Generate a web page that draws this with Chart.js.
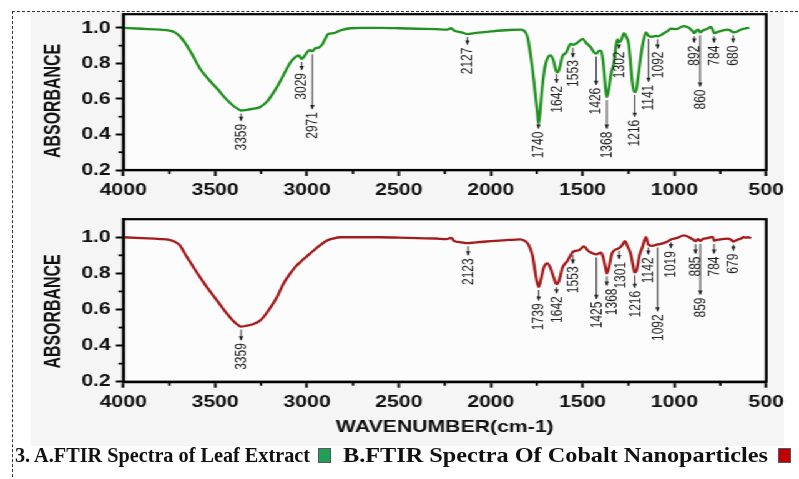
<!DOCTYPE html>
<html><head><meta charset="utf-8">
<script src="https://cdn.jsdelivr.net/npm/chart.js@4.4.0/dist/chart.umd.min.js"></script>
<style>
html,body{margin:0;padding:0;background:#fff;width:799px;height:479px;overflow:hidden;position:relative}
#frame{position:absolute;left:12px;top:11px;width:800px;height:480px;border-left:1px dashed #333;border-top:1px dashed #333}
#panel{position:absolute;left:31px;top:12px;width:753px;height:434px;background:#f5f5f5}
#stretch{position:absolute;left:0;top:0;width:640px;height:445px;transform:scaleX(1.2484);transform-origin:0 0}
#c1{position:absolute;left:0;top:0}
#c2{position:absolute;left:0;top:205px}
.cap{position:absolute;top:444px;font:bold 22px/22px "Liberation Serif","Times New Roman",serif;color:#111;white-space:nowrap;transform-origin:0 0}
.sq{position:absolute;top:448px;width:11px;height:13px;border:1px solid #556}
</style></head>
<body>
<div id="panel"></div>
<div id="frame"></div>
<div id="stretch">
  <canvas id="c1" width="640" height="205"></canvas>
  <canvas id="c2" width="640" height="240"></canvas>
</div>
<span class="cap" id="capA" data-left="15" data-w="295">3. A.FTIR Spectra of Leaf Extract</span>
<div class="sq" style="left:318px;background:#1fa055"></div>
<span class="cap" id="capB" data-left="343" data-w="425">B.FTIR Spectra Of Cobalt Nanoparticles</span>
<div class="sq" style="left:778px;background:#c00000"></div>
<script>
// ---- data ----
const xTicks = [4000,3500,3000,2500,2000,1500,1000,500];
const yTicks = [0.2,0.4,0.6,0.8,1.0];

const waveA = [4000,3900,3800,3750,3720,3690,3654,3620,3582,3540,
3491,3450,3400,3370,3359,3330,3290,3255,3218,3180,
3146,3115,3091,3060,3045,3029,3015,3000,2985,2971,
2955,2935,2918,2900,2885,2855,2820,2764,2700,2600,
2500,2400,2300,2240,2215,2200,2160,2127,2080,2000,
1900,1840,1820,1800,1785,1773,1760,1746,1740,1732,
1720,1710,1695,1675,1660,1645,1635,1625,1610,1590,
1565,1553,1530,1500,1480,1455,1440,1426,1410,1398,
1385,1375,1368,1358,1345,1328,1318,1310,1302,1290,
1274,1262,1250,1240,1230,1220,1210,1198,1183,1168,
1155,1141,1120,1100,1092,1060,1040,1019,990,950,
920,900,892,880,870,860,845,820,801,790,
784,770,740,710,690,680,660,640,610,592];
const absA = [1.000,0.995,0.990,0.985,0.975,0.950,0.900,0.840,0.770,0.715,
0.660,0.610,0.560,0.540,0.535,0.538,0.545,0.555,0.585,0.640,
0.700,0.760,0.805,0.838,0.845,0.825,0.840,0.862,0.875,0.868,
0.885,0.890,0.905,0.940,0.965,0.970,0.985,0.998,1.000,1.000,
0.998,0.995,0.993,0.990,0.998,0.985,0.975,0.965,0.972,0.980,
0.988,0.990,0.985,0.950,0.860,0.770,0.650,0.520,0.460,0.520,
0.660,0.750,0.820,0.845,0.820,0.760,0.750,0.775,0.840,0.860,
0.910,0.905,0.915,0.938,0.915,0.890,0.865,0.855,0.870,0.870,
0.780,0.660,0.610,0.650,0.740,0.810,0.900,0.935,0.918,0.930,
0.970,0.950,0.915,0.820,0.700,0.640,0.640,0.720,0.840,0.930,
0.975,0.955,0.950,0.955,0.952,0.968,0.980,0.995,0.993,1.010,
1.000,0.980,0.970,0.985,0.990,0.975,0.985,0.995,1.005,0.985,
0.970,0.975,0.985,0.990,0.982,0.975,0.978,0.990,0.998,1.000];

const waveB = [4000,3900,3800,3750,3720,3691,3660,3618,3580,3545,
3490,3436,3400,3373,3359,3330,3291,3260,3237,3200,
3164,3130,3091,3060,3037,3000,2964,2930,2891,2860,
2818,2700,2600,2500,2400,2300,2240,2215,2200,2160,
2123,2080,2000,1900,1840,1815,1795,1773,1760,1750,
1739,1728,1712,1692,1675,1655,1642,1628,1610,1582,
1555,1540,1520,1492,1470,1446,1425,1400,1388,1375,
1368,1355,1340,1328,1301,1285,1270,1255,1237,1225,
1216,1205,1190,1174,1155,1142,1119,1100,1092,1074,
1040,1019,990,947,920,895,885,872,859,845,
820,791,784,770,740,710,690,679,660,640,
625,610,600,583];
const absB = [1.000,0.995,0.990,0.985,0.975,0.954,0.900,0.834,0.775,0.724,
0.650,0.577,0.535,0.512,0.505,0.510,0.520,0.535,0.558,0.610,
0.668,0.740,0.800,0.840,0.862,0.895,0.927,0.955,0.982,0.992,
1.000,1.000,1.000,0.998,0.995,0.993,0.990,0.997,0.980,0.972,
0.967,0.972,0.978,0.985,0.988,0.980,0.960,0.900,0.820,0.760,
0.725,0.760,0.830,0.855,0.830,0.770,0.740,0.760,0.830,0.870,
0.917,0.925,0.928,0.950,0.925,0.912,0.905,0.915,0.890,0.830,
0.800,0.840,0.910,0.927,0.940,0.955,0.978,0.950,0.905,0.840,
0.805,0.820,0.900,0.945,1.000,0.960,0.952,0.958,0.960,0.963,
0.975,0.988,0.995,1.010,1.000,0.985,0.978,0.990,0.980,0.990,
0.995,1.002,0.980,0.985,0.990,0.992,0.985,0.976,0.985,0.992,
1.000,0.998,1.000,0.995];

const peaksA = [3359,3029,2971,2127,1740,1642,1553,1426,1368,1302,1216,1141,1092,892,860,784,680];
const peakEndA = [0.477,0.763,0.543,0.906,0.433,0.690,0.835,0.680,0.433,0.884,0.500,0.697,0.884,0.917,0.670,0.917,0.917];
const labelAtA = peaksA.slice();
const peaksB = [3359,2123,1739,1642,1553,1425,1368,1301,1216,1142,1092,1019,885,859,784,679];
const peakEndB = [0.430,0.900,0.650,0.690,0.855,0.660,0.733,0.880,0.720,0.905,0.590,0.940,0.910,0.683,0.910,0.926];
const labelAtB = [3359,2123,1739,1642,1553,1425,1338,1295,1212,1142,1092,1019,885,859,784,679];

// ---- helpers ----
function interp(ws, vs, w){
  for(let i=0;i<ws.length-1;i++){
    if(ws[i]>=w && w>=ws[i+1]){
      const t=(ws[i]-w)/(ws[i]-ws[i+1]||1);
      return vs[i]+(vs[i+1]-vs[i])*t;
    }
  }
  return vs[vs.length-1];
}
const FONT = '"Liberation Sans", Arial, Helvetica, sans-serif';

const decor = {
  id:'decor',
  beforeDraw(chart){
    const {ctx, chartArea:a} = chart;
    ctx.save(); ctx.fillStyle='#fcfcfc';
    ctx.fillRect(a.left,a.top,a.right-a.left,a.bottom-a.top); ctx.restore();
  },
  afterDatasetsDraw(chart, args, o){
    const {ctx} = chart, xs=chart.scales.x, ys=chart.scales.y;
    ctx.save();
    ctx.strokeStyle='#222'; ctx.fillStyle='#222'; ctx.lineWidth=0.9;
    ctx.font = '12px '+FONT;
    o.peaks.forEach((w,i)=>{
      const x = xs.getPixelForValue(w);
      const xl = xs.getPixelForValue(o.labelAt[i]);
      const yc = ys.getPixelForValue(interp(o.wave,o.abs,w))+3;
      const ye = ys.getPixelForValue(o.ends[i]);
      ctx.beginPath(); ctx.moveTo(x,yc); ctx.lineTo(x,ye); ctx.stroke();
      ctx.beginPath(); ctx.moveTo(x-1.8,ye-4); ctx.lineTo(x+1.8,ye-4); ctx.lineTo(x,ye+0.5); ctx.closePath(); ctx.fill();
      ctx.save(); ctx.translate(xl, ye+3); ctx.rotate(-Math.PI/2);
      ctx.textAlign='right'; ctx.textBaseline='middle';
      ctx.fillText(String(w),0,0.5); ctx.restore();
    });
    ctx.restore();
  },
  afterDraw(chart, args, o){
    const {ctx, chartArea:a} = chart, xs=chart.scales.x, ys=chart.scales.y;
    ctx.save();
    ctx.strokeStyle='#000'; ctx.lineWidth=2.2;
    ctx.strokeRect(a.left,a.top,a.right-a.left,a.bottom-a.top);
    ctx.lineWidth=1.8;
    for(let w=3750; w>500; w-=500){
      const x=xs.getPixelForValue(w);
      ctx.beginPath(); ctx.moveTo(x,a.bottom); ctx.lineTo(x,a.bottom+4); ctx.stroke();
    }
    [0.3,0.5,0.7,0.9].forEach(v=>{
      const y=ys.getPixelForValue(v);
      ctx.beginPath(); ctx.moveTo(a.left-4,y); ctx.lineTo(a.left,y); ctx.stroke();
    });
    // y-axis title
    const t='ABSORBANCE';
    ctx.translate(42.9, ys.getPixelForValue(0.6)+2); ctx.rotate(-Math.PI/2);
    ctx.font='bold 19px '+FONT;
    const tw=ctx.measureText(t).width; ctx.scale(114/tw,1);
    ctx.textAlign='center'; ctx.textBaseline='middle'; ctx.fillStyle='#111';
    ctx.fillText(t,0,0);
    ctx.restore();
  }
};

function makeChart(id, wave, abs, color, label, peaks, ends, labelAt, yMax, padTop, xH, xTitle){
  return new Chart(document.getElementById(id), {
    type:'line',
    data:{datasets:[{label, data: wave.map((w,i)=>({x:w,y:abs[i]})),
      borderColor:color, borderWidth:2.3, pointRadius:0, fill:false,
      cubicInterpolationMode:'monotone'}]},
    plugins:[decor],
    options:{
      responsive:false, animation:false, devicePixelRatio:1,
      layout:{padding:{left:0,right:26.2,top:padTop,bottom:0}},
      plugins:{legend:{display:false}, tooltip:{enabled:false},
        decor:{peaks, ends, labelAt, wave, abs}},
      scales:{
        x:{type:'linear', reverse:true, min:500, max:4000,
          afterBuildTicks:s=>{s.ticks=xTicks.map(v=>({value:v}));},
          afterFit:s=>{s.height=xH;},
          ticks:{font:{family:FONT,size:17,weight:'bold'},color:'#111',padding:4,maxRotation:0,autoSkip:false,
            callback:v=>String(Math.round(v))},
          grid:{display:true,drawOnChartArea:false,drawTicks:true,tickLength:6,tickWidth:2,tickColor:'#000',color:'#000'},
          border:{display:true,width:2.2,color:'#000'},
          title:{display:!!xTitle, text:xTitle||'', color:'#111',
            font:{family:FONT,size:17,weight:'bold'}, padding:{top:0,bottom:7}}
        },
        y:{type:'linear', min:0.2, max:yMax,
          afterBuildTicks:s=>{s.ticks=yTicks.map(v=>({value:v}));},
          afterFit:s=>{s.width=98.8;},
          ticks:{font:{family:FONT,size:17,weight:'bold'},color:'#111',padding:4,
            callback:v=>Number(v).toFixed(1)},
          grid:{display:true,drawOnChartArea:false,drawTicks:true,tickLength:6,tickWidth:2,tickColor:'#000',color:'#000'},
          border:{display:true,width:2.2,color:'#000'}
        }
      }
    }
  });
}

makeChart('c1', waveA, absA, '#1f921f', 'A. FTIR Spectra of Leaf Extract', peaksA, peakEndA, labelAtA, 1.077, 11, 35, null);
makeChart('c2', waveB, absB, '#a51a1a', 'B. FTIR Spectra Of Cobalt Nanoparticles', peaksB, peakEndB, labelAtB, 1.1, 13.3, 63.3, 'WAVENUMBER(cm-1)');

function fitCaps(){
  document.querySelectorAll('.cap').forEach(el=>{
    el.style.left = el.dataset.left+'px';
    el.style.transform='none';
    const w = el.getBoundingClientRect().width;
    el.style.transform='scaleX('+(parseFloat(el.dataset.w)/w)+')';
  });
}
fitCaps();
if(document.fonts && document.fonts.ready) document.fonts.ready.then(fitCaps);
</script>
</body></html>
